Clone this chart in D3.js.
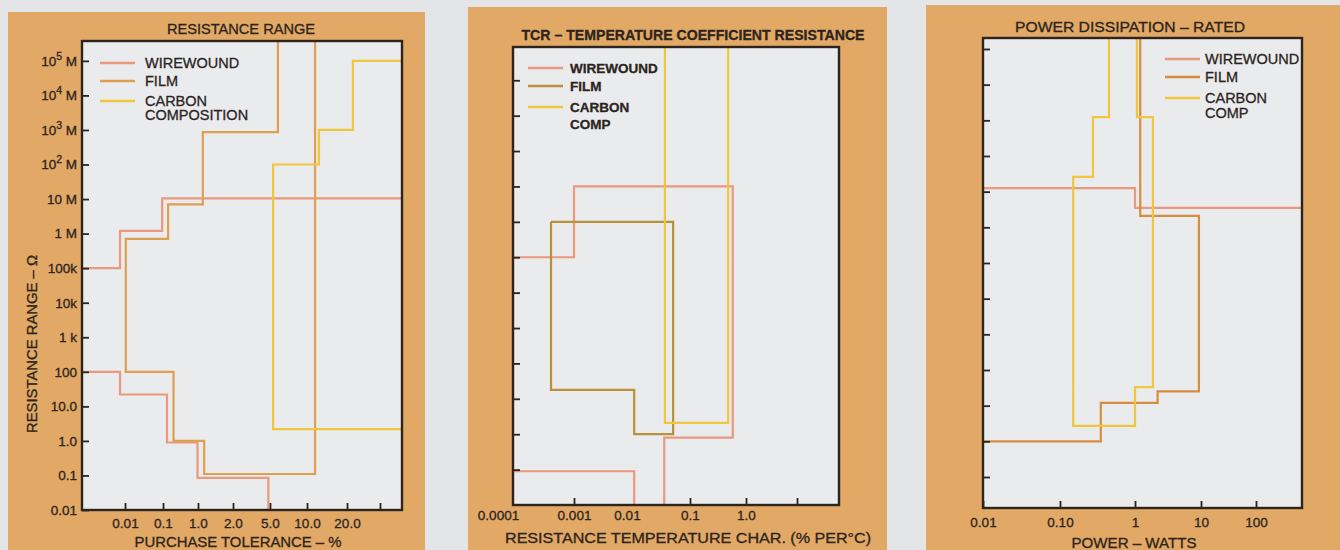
<!DOCTYPE html>
<html>
<head>
<meta charset="utf-8">
<script src="https://cdn.jsdelivr.net/npm/d3@7"></script>
<style>
  html, body { margin: 0; padding: 0; background: #e4e5e7; }
  svg { display: block; font-family: "Liberation Sans", Arial, sans-serif; }
  svg text { stroke: #2c241d; stroke-width: 0.3px; paint-order: stroke; }
</style>
</head>
<body>
<svg id="chart" width="1340" height="550"></svg>
<script>
// ---------- data ----------
// Outlines are lists of [x, resistance] corners; ±Infinity means "runs to the plot edge".
const legendNames = ["WIREWOUND", "FILM", "CARBON"];

// Panel 1: resistance range vs purchase tolerance (%)
const tolTicks = [0.01, 0.1, 1, 2, 5, 10, 20, 50];
const tolTickLabels = ["0.01", "0.1", "1.0", "2.0", "5.0", "10.0", "20.0", ""];
const resTicks = [0.01, 0.1, 1, 10, 100, 1e3, 1e4, 1e5, 1e6, 1e7, 1e8, 1e9, 1e10, 1e11];
const resTickLabels = ["0.01", "0.1", "1.0", "10.0", "100", "1 k", "10k", "100k", "1 M", "10 M",
                       "10^2 M", "10^3 M", "10^4 M", "10^5 M"];
const tolWirewound = [
  [[-Infinity, 1e5], [0.0074, 1e5], [0.0074, 1.2e6], [0.095, 1.2e6], [0.095, 1.05e7], [Infinity, 1.05e7]],
  [[-Infinity, 100], [0.0074, 100], [0.0074, 22], [0.13, 22], [0.13, 0.9], [0.97, 0.9], [0.97, 0.085],
   [4.8, 0.085], [4.8, -Infinity]]
];
const tolFilm = [
  [[5.8, Infinity], [5.8, 8.7e8], [1.1, 8.7e8], [1.1, 7e6], [0.14, 7e6], [0.14, 7e5], [0.0105, 7e5],
   [0.0105, 100], [0.2, 100], [0.2, 1.0], [1.13, 1.0], [1.13, 0.11], [11.5, 0.11], [11.5, Infinity]]
];
const tolCarbon = [
  [[Infinity, 1e11], [23.6, 1e11], [23.6, 1e9], [12.3, 1e9], [12.3, 1e8], [5.3, 1e8], [5.3, 2.2], [Infinity, 2.2]]
];

// Panel 2: resistance vs temperature characteristic (% per °C)
const tcrTicks = [1e-4, 1e-3, 1e-2, 0.1, 1, 10];
const tcrTickLabels = ["0.0001", "0.001", "0.01", "0.1", "1.0", ""];
const tcrResTicks = [0.1, 1, 10, 100, 1e3, 1e4, 1e5, 1e6, 1e7, 1e8, 1e9, 1e10];
const tcrWirewound = [
  [[-Infinity, 1e5], [1e-3, 1e5], [1e-3, 1e7], [0.58, 1e7], [0.58, 0.8], [0.039, 0.8], [0.039, -Infinity]],
  [[-Infinity, 0.09], [0.013, 0.09], [0.013, -Infinity]]
];
const tcrFilm = [
  [[4.2e-4, 1e6], [0.054, 1e6], [0.054, 1.0], [0.013, 1.0], [0.013, 18], [4.2e-4, 18], [4.2e-4, 1e6]]
];
const tcrCarbon = [
  [[0.04, Infinity], [0.04, 2.1], [0.48, 2.1], [0.48, Infinity]]
];

// Panel 3: resistance vs rated power (W)
const powTicks = [0.01, 0.1, 1, 10, 100];
const powTickLabels = ["0.01", "0.10", "1", "10", "100"];
const powResTicks = [0.1, 1, 10, 100, 1e3, 1e4, 1e5, 1e6, 1e7, 1e8, 1e9, 1e10, 1e11];
const powWirewound = [
  [[-Infinity, 1.25e7], [1.0, 1.25e7], [1.0, 3.5e6], [Infinity, 3.5e6]]
];
const powFilm = [
  [[1.2, Infinity], [1.2, 2.1e6], [9.3, 2.1e6], [9.3, 25], [2.2, 25], [2.2, 12], [0.35, 12], [0.35, 1.0],
   [-Infinity, 1.0]]
];
const powCarbon = [
  [[0.45, Infinity], [0.45, 1.23e9], [0.275, 1.23e9], [0.275, 2.6e7], [0.15, 2.6e7], [0.15, 2.7],
   [1.0, 2.7], [1.0, 33], [1.87, 33], [1.87, 1.23e9], [1.07, 1.23e9], [1.07, Infinity]]
];

// ---------- styling & layout ----------
const INK = "#2c241d";
const ORANGE = "#e2a866";
const PLOT_BG = "#eaebed";
const WIRE = "#ea987e";
const CARB = "#f0c63e";

const panels = [
  {
    bg: [8, 12, 417, 538], plot: [82, 41, 320, 469],
    xTicks: tolTicks, xStops: [43, 81, 116, 151, 188, 225, 265, 298], xLabels: tolTickLabels,
    yDomain: [0.01, Math.pow(10, 11.575)], yTicks: resTicks, yLabels: resTickLabels,
    series: [tolWirewound, tolFilm, tolCarbon], filmColor: "#df9f52",
    title: "RESISTANCE RANGE", titleX: 241, titleY: 34, titleLen: 148, titleBold: false,
    xTitle: "PURCHASE TOLERANCE – %", xTitleX: 238, xTitleY: 547, xTitleLen: 207, xTitleBold: false,
    xLabelPad: 8,
    yTitle: "RESISTANCE RANGE – Ω", yTitleX: 37, yTitleY: 344,
    legend: { lx: 18, tx: 63, rows: [22, 40, 60], extra: ["COMPOSITION", 74], bold: false, size: 14.5 }
  },
  {
    bg: [468, 7, 419, 543], plot: [513, 47, 326, 458],
    xTicks: tcrTicks, xStops: [0, 61, 114, 177, 233, 284], xLabels: tcrTickLabels,
    hideXTicks: [1e-4, 1e-2], xLabelShift: { 0: -15 },
    yDomain: [0.01, Math.pow(10, 10.94)], yTicks: tcrResTicks, yLabels: null,
    series: [tcrWirewound, tcrFilm, tcrCarbon], filmColor: "#b8913a",
    title: "TCR – TEMPERATURE COEFFICIENT RESISTANCE", titleX: 693, titleY: 40, titleLen: 343, titleBold: true,
    xTitle: "RESISTANCE TEMPERATURE CHAR. (% PER°C)", xTitleX: 688, xTitleY: 543, xTitleLen: 366,
    xTitleBold: false, xLabelPad: 5,
    legend: { lx: 15, tx: 57, rows: [21, 39, 60], extra: ["COMP", 77], bold: true, size: 13.5 }
  },
  {
    bg: [926, 5, 414, 545], plot: [983, 38, 319, 470],
    xTicks: powTicks, xStops: [0, 77, 152, 218, 273], xLabels: powTickLabels,
    yDomain: [Math.pow(10, -1.869), Math.pow(10, 11.308)], yTicks: powResTicks, yLabels: null,
    series: [powWirewound, powFilm, powCarbon], filmColor: "#d68d3f",
    title: "POWER  DISSIPATION – RATED", titleX: 1130, titleY: 32, titleLen: 230, titleBold: false,
    xTitle: "POWER – WATTS", xTitleX: 1134, xTitleY: 548, xTitleLen: 125, xTitleBold: false,
    xLabelPad: 9,
    legend: { lx: 182, tx: 222, rows: [21, 39, 60], extra: ["COMP", 75], bold: false, size: 14.5 }
  }
];

// ---------- drawing ----------
const svg = d3.select("#chart");
svg.append("rect").attr("width", 1340).attr("height", 550).attr("fill", "#e4e5e7");

panels.forEach((p, pi) => {
  const g = svg.append("g");
  const [bx, by, bw, bh] = p.bg;
  g.append("rect").attr("x", bx).attr("y", by).attr("width", bw).attr("height", bh).attr("fill", ORANGE);

  const [px0, py0, w, h] = p.plot;
  const plot = g.append("g").attr("transform", `translate(${px0},${py0})`);
  plot.append("rect").attr("width", w).attr("height", h).attr("fill", PLOT_BG);

  const x = d3.scaleLog().domain(p.xTicks).range(p.xStops);
  const y = d3.scaleLog().domain(p.yDomain).range([h, 0]);

  const sx = v => v === -Infinity ? -3 : v === Infinity ? w + 3 : x(v);
  const sy = v => v === Infinity ? -3 : v === -Infinity ? h + 3 : y(v);

  const clipId = "clip" + pi;
  plot.append("clipPath").attr("id", clipId)
    .append("rect").attr("width", w).attr("height", h);

  const line = d3.line().x(d => sx(d[0])).y(d => sy(d[1]));
  const colors = [WIRE, p.filmColor, CARB];
  const lines = plot.append("g").attr("clip-path", `url(#${clipId})`);
  p.series.forEach((outlines, si) => {
    lines.selectAll(null).data(outlines).enter().append("path")
      .attr("d", line)
      .attr("fill", "none")
      .attr("stroke", colors[si])
      .attr("stroke-width", 2.2)
      .attr("stroke-linejoin", "miter");
  });

  // left axis: inward ticks
  const yAxis = d3.axisLeft(y).tickValues(p.yTicks)
    .tickFormat((d, i) => p.yLabels ? p.yLabels[i] : "")
    .tickSizeInner(-7).tickSizeOuter(0).tickPadding(5);
  const ya = plot.append("g").call(yAxis);
  ya.select(".domain").remove();
  ya.selectAll(".tick line").attr("stroke", INK).attr("stroke-width", 1.8);
  ya.selectAll(".tick text").attr("fill", INK).attr("font-size", 13.5).attr("font-family", null)
    .each(function (d, i) {
      const lab = p.yLabels ? p.yLabels[i] : "";
      if (lab.includes("^")) {
        const t = d3.select(this);
        const [base, rest] = lab.split("^");
        t.text(null);
        t.append("tspan").text(base);
        t.append("tspan").attr("dy", -6).attr("font-size", 10.5).text(rest[0]);
        t.append("tspan").attr("dy", 6).text(rest.slice(1));
      }
    });

  // bottom axis: inward ticks
  const xAxis = d3.axisBottom(x).tickValues(p.xTicks)
    .tickFormat((d, i) => p.xLabels[i])
    .tickSizeInner(-7).tickSizeOuter(0).tickPadding(p.xLabelPad);
  const xa = plot.append("g").attr("transform", `translate(0,${h})`).call(xAxis);
  xa.select(".domain").remove();
  xa.selectAll(".tick line").attr("stroke", INK).attr("stroke-width", 1.8)
    .attr("opacity", d => (p.hideXTicks && p.hideXTicks.includes(d)) ? 0 : 1);
  xa.selectAll(".tick text").attr("fill", INK).attr("font-size", 13.5).attr("font-family", null)
    .attr("dx", (d, i) => (p.xLabelShift && p.xLabelShift[i]) || 0);

  // frame
  plot.append("rect").attr("width", w).attr("height", h)
    .attr("fill", "none").attr("stroke", INK).attr("stroke-width", 2.4);

  // legend
  const L = p.legend;
  const leg = plot.append("g").attr("font-size", L.size).attr("fill", INK)
    .attr("font-weight", L.bold ? "bold" : "normal");
  legendNames.forEach((name, i) => {
    leg.append("line").attr("x1", L.lx).attr("x2", L.lx + 35)
      .attr("y1", L.rows[i]).attr("y2", L.rows[i])
      .attr("stroke", colors[i]).attr("stroke-width", 2.4);
    leg.append("text").attr("x", L.tx).attr("y", L.rows[i]).attr("dy", "0.36em").text(name);
  });
  leg.append("text").attr("x", L.tx).attr("y", L.extra[1]).attr("dy", "0.36em").text(L.extra[0]);

  // titles
  g.append("text").attr("x", p.titleX).attr("y", p.titleY)
    .attr("text-anchor", "middle").attr("font-size", 14.5).attr("fill", INK)
    .attr("font-weight", p.titleBold ? "bold" : "normal")
    .attr("textLength", p.titleLen).attr("lengthAdjust", "spacingAndGlyphs")
    .text(p.title);
  g.append("text").attr("x", p.xTitleX).attr("y", p.xTitleY)
    .attr("text-anchor", "middle").attr("font-size", 14.5).attr("fill", INK)
    .attr("font-weight", p.xTitleBold ? "bold" : "normal")
    .attr("textLength", p.xTitleLen).attr("lengthAdjust", "spacingAndGlyphs")
    .text(p.xTitle);
  if (p.yTitle) {
    g.append("text").attr("transform", `translate(${p.yTitleX},${p.yTitleY}) rotate(-90)`)
      .attr("text-anchor", "middle").attr("font-size", 14.5).attr("fill", INK)
      .attr("textLength", 178).attr("lengthAdjust", "spacingAndGlyphs")
      .text(p.yTitle);
  }
});
</script>
</body>
</html>
